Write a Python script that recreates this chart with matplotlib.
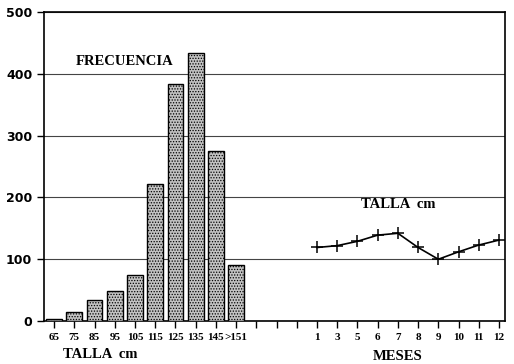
import matplotlib
matplotlib.use("Agg")
import matplotlib.pyplot as plt

# frecuencia por talla
tallas = ["65", "75", "85", "95", "105", "115", "125", "135", "145", ">151"]
frecuencia = [4, 14, 34, 49, 75, 222, 383, 433, 275, 90]

# talla media por mes
meses = ["1", "3", "5", "6", "7", "8", "9", "10", "11", "12"]
talla_mes = [119, 122, 129, 139, 142, 119, 100, 112, 123, 131]

n_gap = 3  # empty ticks between the two groups

plt.rcParams['font.family'] = ['Liberation Serif', 'DejaVu Serif']
plt.rcParams['font.weight'] = 'bold'
plt.rcParams['hatch.color'] = '#8c8c8c'
plt.rcParams['hatch.linewidth'] = 0.6

fig = plt.figure(figsize=(5.14, 3.64), dpi=100)
ax = fig.add_axes([0.0856, 0.118, 0.897, 0.849])

x_bars = list(range(len(tallas)))
start = len(tallas) + n_gap
x_meses = list(range(start, start + len(meses)))

ax.bar(x_bars, frecuencia, width=0.78, color='#c2c2c2', edgecolor='black',
       linewidth=1.0, hatch='......', zorder=3)
ax.plot(x_meses, talla_mes, color='black', linewidth=1.2, marker='+',
        markersize=9, markeredgewidth=1.1, zorder=4)

ticks = list(range(start + len(meses)))
labels = tallas + [""] * n_gap + meses
ax.set_xticks(ticks)
ax.set_xticklabels(labels, fontsize=8, fontweight='bold')
ax.set_xlim(-0.5, ticks[-1] + 0.3)
ax.set_ylim(0, 500)
ax.set_yticks([0, 100, 200, 300, 400, 500])
ax.set_yticklabels(["0", "100", "200", "300", "400", "500"], fontsize=9,
                   fontweight='bold', family=['DejaVu Sans'])
ax.tick_params(direction='out', length=5, width=1.0, colors='black')
ax.grid(axis='y', color='#444444', linewidth=0.8, zorder=0)
for s in ax.spines.values():
    s.set_linewidth(1.2)

ax.text(3.5, 420, "FRECUENCIA", ha='center', va='center', fontsize=10.5,
        fontweight='bold')
ax.text(17.0, 188, "TALLA  cm", ha='center', va='center', fontsize=10.5,
        fontweight='bold')

fig.text(100 / 514, 1 - 354 / 364, "TALLA  cm", ha='center', va='center',
         fontsize=10.5, fontweight='bold')
fig.text(398 / 514, 1 - 357 / 364, "MESES", ha='center', va='center',
         fontsize=10.5, fontweight='bold')

fig.savefig("out.png", dpi=100)
